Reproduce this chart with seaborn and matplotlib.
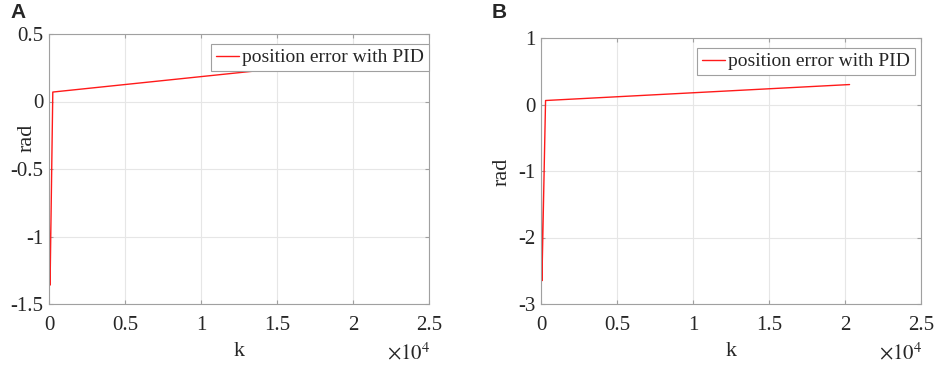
import matplotlib
matplotlib.use("Agg")
import matplotlib.pyplot as plt
import seaborn as sns
import pandas as pd

# Panel A data (k, rad)
k_a = [0, 20, 40, 60, 70, 250, 20300]
err_a = [0.0, -0.9, -1.15, -1.2, -1.36, 0.07, 0.305]
# Panel B data
k_b = [0, 20, 40, 60, 300, 20300]
err_b = [0.0, -1.0, -2.2, -2.65, 0.06, 0.30]

xticks = [0, 5000, 10000, 15000, 20000, 25000]
xticklabels = ["0", "0.5", "1", "1.5", "2", "2.5"]
yticks_a = [-1.5, -1, -0.5, 0, 0.5]
yticklabels_a = ["-1.5", "-1", "-0.5", "0", "0.5"]
yticks_b = [-3, -2, -1, 0, 1]
yticklabels_b = ["-3", "-2", "-1", "0", "1"]
legend_label = "position error with PID"

sns.set_style("white")
plt.rcParams["font.family"] = ["Liberation Serif", "DejaVu Serif"]
plt.rcParams["mathtext.fontset"] = "stix"

W, H = 935, 365
fig = plt.figure(figsize=(9.35, 3.65), dpi=100)

def px_axes(l, t, r, b):
    return fig.add_axes([l / W, 1 - b / H, (r - l) / W, (b - t) / H])

ax_a = px_axes(49, 34, 429, 304)
ax_b = px_axes(541, 38, 921, 304)

def style(ax, k, e, yticks, yticklabels, ylim, legbox, ylab_xy, xmult_x):
    df = pd.DataFrame({"k": k, "rad": e})
    sns.lineplot(data=df, x="k", y="rad", ax=ax, color="#ff1a1a", linewidth=1.0,
                 label=legend_label, sort=False, estimator=None)
    ax.set_xlim(0, 25000)
    ax.set_ylim(*ylim)
    ax.set_xticks(xticks)
    ax.set_xticklabels(xticklabels, fontsize=15)
    ax.set_yticks(yticks)
    ax.set_yticklabels(yticklabels, fontsize=15)
    ax.grid(True, color="#e6e6e6", linewidth=0.8)
    ax.set_axisbelow(True)
    for s in ax.spines.values():
        s.set_color("#a0a0a0")
        s.set_linewidth(0.8)
        s.set_visible(True)
    ax.tick_params(direction="in", length=3, color="#a0a0a0", top=True, right=True,
                   bottom=True, left=True, labelcolor="#262626")
    ax.tick_params(axis="x", pad=9)
    ax.tick_params(axis="y", pad=4)
    ax.set_xlabel("k", fontsize=16, color="#262626")
    ax.set_ylabel("rad", fontsize=16, color="#262626")
    bb = ax.get_position()
    axh = bb.height * H
    axw = bb.width * W
    axl = bb.x0 * W
    axb = (1 - bb.y0) * H
    ax.xaxis.set_label_coords(0.5, -(351 - axb) / axh, transform=ax.transAxes)
    ax.xaxis.label.set_va("center")
    ax.yaxis.set_label_coords((ylab_xy[0] - axl) / axw, (axb - ylab_xy[1]) / axh,
                              transform=ax.transAxes)
    ax.yaxis.label.set_va("center")
    leg = ax.legend(loc="upper left", fontsize=14, frameon=True, fancybox=False,
                    edgecolor="#a0a0a0", framealpha=1.0, handlelength=1.2,
                    handletextpad=0.15, borderpad=0.25, borderaxespad=0.0,
                    bbox_to_anchor=((legbox[0] - axl) / axw,
                                    (axb - legbox[1]) / axh),
                    bbox_transform=ax.transAxes)
    leg.get_frame().set_linewidth(0.8)
    fig.text(xmult_x / W, 1 - 354 / H, r"$\times10^4$", ha="right",
             va="center", fontsize=15, color="#262626")

style(ax_a, k_a, err_a, yticks_a, yticklabels_a, (-1.5, 0.5), (211, 44), (27, 138), 430)
style(ax_b, k_b, err_b, yticks_b, yticklabels_b, (-3, 1), (697, 48), (502, 172), 922)

fig.text(10 / W, 1 - 12 / H, "A", fontsize=15, fontweight="bold",
         family="Liberation Sans", va="center", ha="left")
fig.text(492 / W, 1 - 13 / H, "B", fontsize=15, fontweight="bold",
         family="Liberation Sans", va="center", ha="left")

fig.savefig("out.png", dpi=100, facecolor="white")
